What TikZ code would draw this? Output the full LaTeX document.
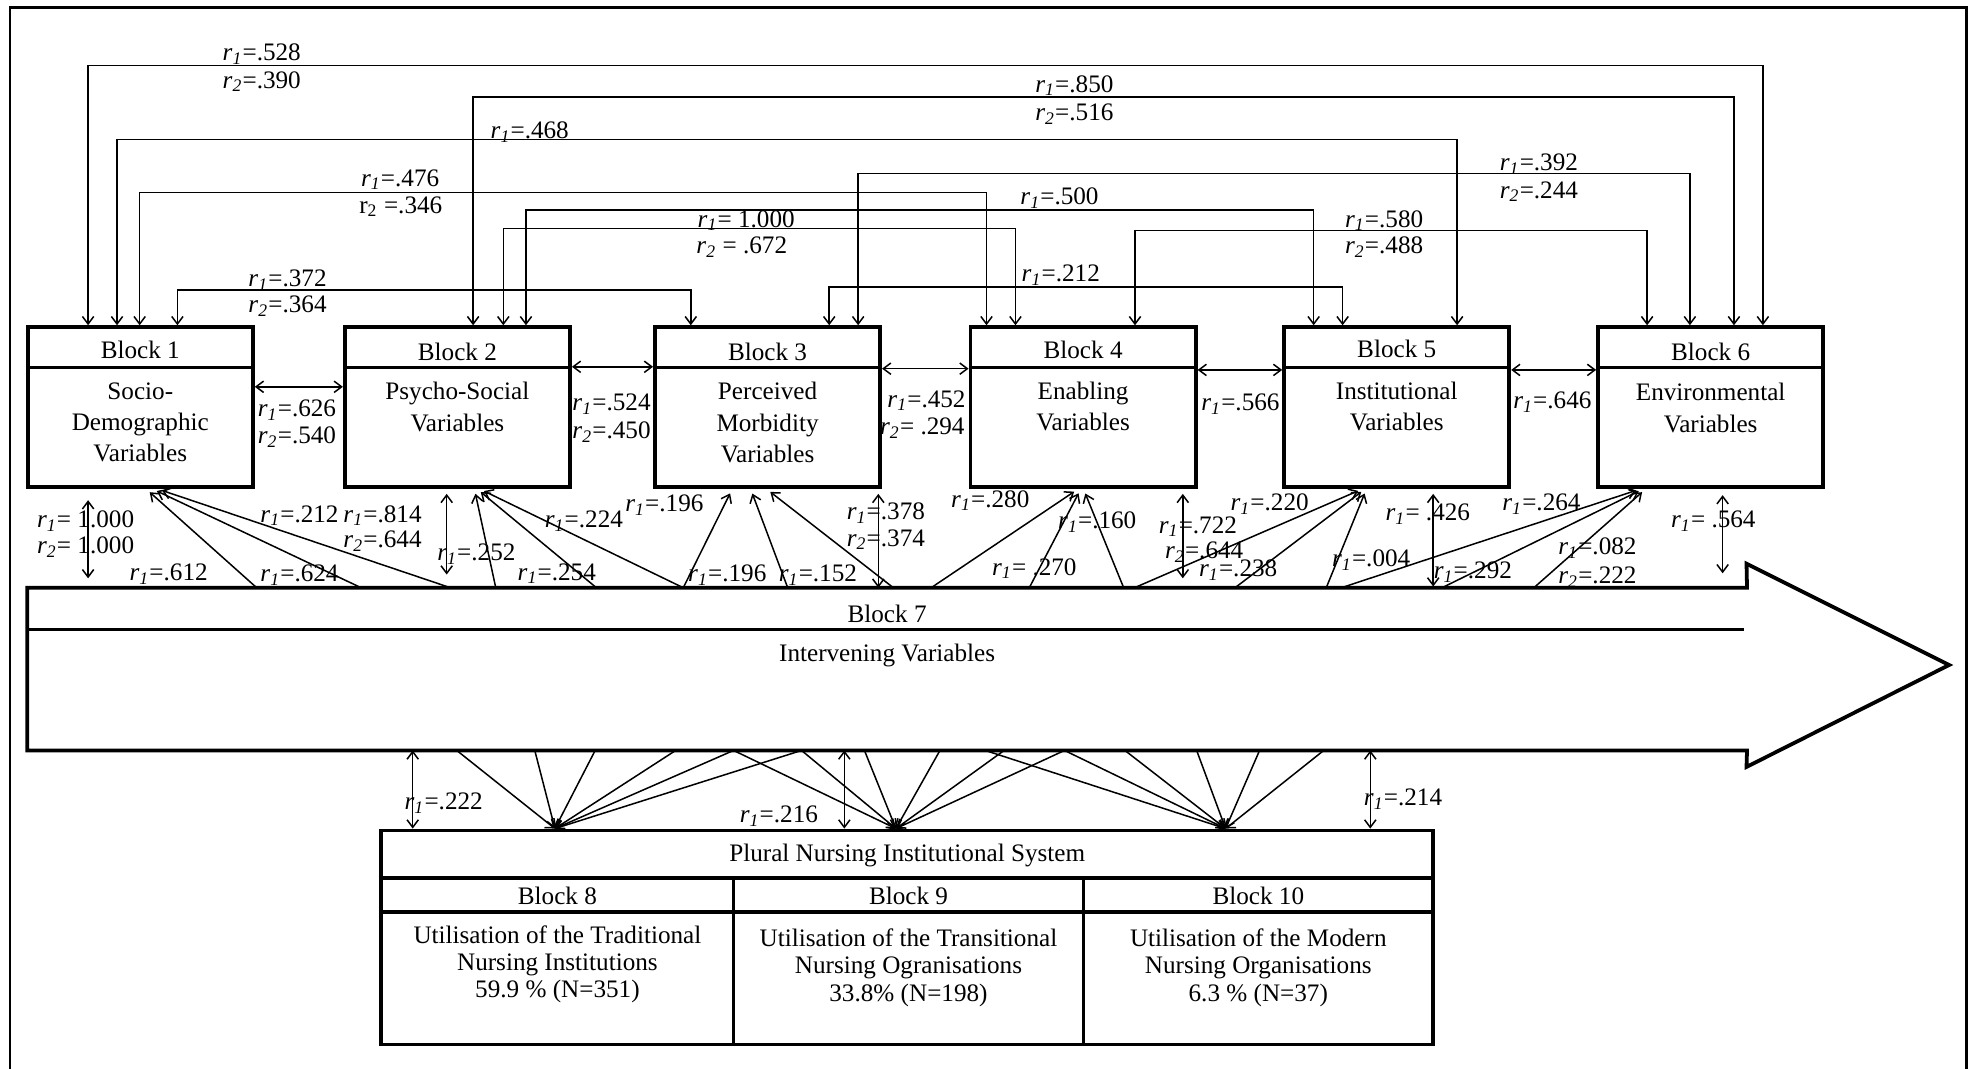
\documentclass[tikz,border=0pt]{standalone}
\usepackage{fontspec}
\setmainfont{Liberation Serif}
\usetikzlibrary{arrows.meta,calc}
\newcommand{\rlabA}[1]{\textit{r}\textsubscript{\textit{1}}=#1}
\newcommand{\rlabB}[1]{\textit{r}\textsubscript{\textit{2}}=#1}
\begin{document}
\begin{tikzpicture}[x=0.5pt,y=-0.5pt,
  blk/.style={draw, line width=1.5pt, minimum width=89.5pt, minimum height=63.5pt, inner sep=0pt},
  txt/.style={inner sep=0pt, font=\fontsize{10}{12.45}\selectfont, align=center},
  lbl/.style={inner sep=0pt, font=\fontsize{10}{12}\selectfont, anchor=base},
  conn/.style={line width=0.6pt, {Straight Barb[length=3pt,width=4.5pt]}-{Straight Barb[length=3pt,width=4.5pt]}},
  fan/.style={line width=0.6pt, -{Straight Barb[length=3pt,width=4.5pt]}},
  divl/.style={line width=1.5pt}]
\useasboundingbox (0,0) rectangle (1568,849.5);
\draw[line width=1pt] (8,849.5) -- (8,6) -- (1563,6) -- (1563,849.5);

% ---- blocks 1-6
\node[blk] (b1) at (111.5,323.5) {};
\node[blk] (b2) at (363.5,323.5) {};
\node[blk] (b3) at (610,323.5) {};
\node[blk] (b4) at (860.75,323.5) {};
\node[blk] (b5) at (1110,323.5) {};
\node[blk] (b6) at (1359.5,323.5) {};
\foreach \b in {b1,b2,b3,b4,b5,b6}
  \draw[divl] (\b.west |- 0,292) -- (\b.east |- 0,292);

\node[txt, anchor=base] (h1) at (111.5,285) {Block 1};
\node[txt, anchor=base] (h2) at (363.5,286.5) {Block 2};
\node[txt, anchor=base] (h3) at (610,286.5) {Block 3};
\node[txt, anchor=base] (h4) at (860.75,285) {Block 4};
\node[txt, anchor=base] (h5) at (1110,284) {Block 5};
\node[txt, anchor=base] (h6) at (1359.5,286.5) {Block 6};

\node[txt, anchor=north] (t1) at (111.5,303.5) {Socio-\\Demographic\\Variables};
\node[txt, anchor=north] (t2) at (363.5,303.5) {Psycho-Social\\Variables};
\node[txt, anchor=north] (t3) at (610,303.5) {Perceived\\Morbidity\\Variables};
\node[txt, anchor=north] (t4) at (860.75,303) {Enabling\\Variables};
\node[txt, anchor=north] (t5) at (1110,303) {Institutional\\Variables};
\node[txt, anchor=north] (t6) at (1359.5,304.3) {Environmental\\Variables};

% ---- block 7 (arrow)
\node[minimum width=683pt, minimum height=64.25pt, inner sep=0pt] (b7) at (705,531.75) {};
\draw[line width=1.5pt, line join=miter] (b7.north west) -- (b7.north east) -- (1388,448) -- (1549,528.5) -- (1388,609.5) -- (b7.south east) -- (b7.south west) -- cycle;
\draw[divl] (b7.west |- 0,500.3) -- (1386,500.3);
\node[txt, anchor=base] (h7) at (705,494.5) {Block 7};
\node[txt, anchor=base] (t7) at (705,526) {Intervening Variables};

% ---- plural nursing institutional system
\node[blk, minimum width=418pt, minimum height=85pt] (pns) at (721,745) {};
\draw[divl] (pns.west |- 0,698) -- (pns.east |- 0,698);
\draw[divl] (pns.west |- 0,724.7) -- (pns.east |- 0,724.7);
\draw[divl] (583,698) -- (583,0 |- pns.south);
\draw[divl] (861,698) -- (861,0 |- pns.south);
\node[txt, anchor=base] (hp) at (721,685) {Plural Nursing Institutional System};
\node[txt, anchor=base] (h8) at (443,719) {Block 8};
\node[txt, anchor=base] (h9) at (722,719) {Block 9};
\node[txt, anchor=base] (h10) at (1000,719) {Block 10};
\node[txt, anchor=north, font=\fontsize{10}{10.9}\selectfont] (t8) at (443,735) {Utilisation of the Traditional\\Nursing Institutions\\59.9 \% (N=351)};
\node[txt, anchor=north, font=\fontsize{10}{10.9}\selectfont] (t9) at (722,737.5) {Utilisation of the Transitional\\Nursing Ogranisations\\33.8\% (N=198)};
\node[txt, anchor=north, font=\fontsize{10}{10.9}\selectfont] (t10) at (1000,737.5) {Utilisation of the Modern\\Nursing Organisations\\6.3 \% (N=37)};

% ---- top connectors
\draw[conn] (70,0 |- b1.north) -- (70,52) -- (1401,52) -- (1401,0 |- b6.north);
\draw[conn] (376,0 |- b2.north) -- (376,77) -- (1378,77) -- (1378,0 |- b6.north);
\draw[conn] (93,0 |- b1.north) -- (93,111) -- (1158,111) -- (1158,0 |- b5.north);
\draw[conn] (682,0 |- b3.north) -- (682,138) -- (1343,138) -- (1343,0 |- b6.north);
\draw[conn] (111,0 |- b1.north) -- (111,153) -- (784,153) -- (784,0 |- b4.north);
\draw[conn] (418,0 |- b2.north) -- (418,167) -- (1044,167) -- (1044,0 |- b5.north);
\draw[conn] (400,0 |- b2.north) -- (400,181.5) -- (807,181.5) -- (807,0 |- b4.north);
\draw[conn] (902,0 |- b4.north) -- (902,183.3) -- (1309,183.3) -- (1309,0 |- b6.north);
\draw[conn] (659,0 |- b3.north) -- (659,228) -- (1067,228) -- (1067,0 |- b5.north);
\draw[conn] (141,0 |- b1.north) -- (141,230.5) -- (549,230.5) -- (549,0 |- b3.north);

\node[lbl] (la1) at (208,48) {\rlabA{.528}};
\node[lbl] (lb1) at (208,70) {\rlabB{.390}};
\node[lbl] (la2) at (853.8,73.2) {\rlabA{.850}};
\node[lbl] (lb2) at (853.8,95.8) {\rlabB{.516}};
\node[lbl] (la3) at (421,110.3) {\rlabA{.468}};
\node[lbl] (la4) at (1223,135.5) {\rlabA{.392}};
\node[lbl] (lb4) at (1223,157.5) {\rlabB{.244}};
\node[lbl] (la5) at (318,148) {\rlabA{.476}};
\node[lbl] (lb5) at (318.5,169.4) {r\textsubscript{2} =.346};
\node[lbl] (la6) at (842,162.8) {\rlabA{.500}};
\node[lbl] (la7) at (593,180.5) {\rlabA{ 1.000}};
\node[lbl] (lb7) at (589.5,201.5) {\textit{r}\textsubscript{\textit{2}} = .672};
\node[lbl] (la8) at (1100,180.5) {\rlabA{.580}};
\node[lbl] (lb8) at (1100,201.8) {\rlabB{.488}};
\node[lbl] (la9) at (843,224) {\rlabA{.212}};
\node[lbl] (la10) at (228.5,228) {\rlabA{.372}};
\node[lbl] (lb10) at (228.5,248.6) {\rlabB{.364}};

% ---- horizontal connectors
\draw[conn] (b1.east |- 0,307.4) -- (b2.west |- 0,307.4);
\draw[conn] (b2.east |- 0,291.5) -- (b3.west |- 0,291.5);
\draw[conn] (b3.east |- 0,293) -- (b4.west |- 0,293);
\draw[conn] (b4.east |- 0,294) -- (b5.west |- 0,294);
\draw[conn] (b5.east |- 0,294) -- (b6.west |- 0,294);
\node[lbl] (lh1a) at (236,330.8) {\rlabA{.626}};
\node[lbl] (lh1b) at (236,352.8) {\rlabB{.540}};
\node[lbl] (lh2a) at (486,326.3) {\rlabA{.524}};
\node[lbl] (lh2b) at (486,348.3) {\rlabB{.450}};
\node[lbl] (lh3a) at (736.3,323.6) {\rlabA{.452}};
\node[lbl] (lh3b) at (733,345.6) {\rlabB{ .294}};
\node[lbl] (lh4a) at (985.8,326.3) {\rlabA{.566}};
\node[lbl] (lh5a) at (1233.7,325) {\rlabA{.646}};

% ---- block 7 to blocks 1-6
\foreach \s/\t/\b in {204/116/b1, 287/121/b1, 358/125/b1, 394/377/b2, 474/379/b2, 543/381/b2, 543/582/b3, 626/596.5/b3, 710/609/b3, 740/857/b4, 818/859/b4, 893/861/b4, 901.6/1083/b5, 981.5/1085/b5, 1054/1086/b5, 1066/1304/b6, 1146/1306/b6, 1219/1308/b6}
  \draw[fan, shorten >=2pt] (\s,0 |- b7.north) -- (\t,0 |- \b.south);

\draw[conn, shorten <=4.5pt, shorten >=3.75pt] (70,0 |- b1.south) -- (70,0 |- b7.north);
\draw[conn, shorten <=2pt, shorten >=5.25pt] (355,0 |- b2.south) -- (355,0 |- b7.north);
\draw[conn, shorten <=2pt] (698,0 |- b3.south) -- (698,0 |- b7.north);
\draw[conn, shorten <=2pt, shorten >=3.75pt] (940,0 |- b4.south) -- (940,0 |- b7.north);
\draw[conn, shorten <=2pt, shorten >=0.5pt] (1139,0 |- b5.south) -- (1139,0 |- b7.north);
\draw[conn, shorten <=2.5pt, shorten >=5.75pt] (1369,0 |- b6.south) -- (1369,0 |- b7.north);

\node[lbl] (m1) at (68,419.5) {\rlabA{ 1.000}};
\node[lbl] (m2) at (68,440) {\rlabB{ 1.000}};
\node[lbl] (m3) at (134,461.4) {\rlabA{.612}};
\node[lbl] (m4) at (238,462) {\rlabA{.624}};
\node[lbl] (m5) at (238,415) {\rlabA{.212}};
\node[lbl] (m6) at (304,415) {\rlabA{.814}};
\node[lbl] (m7) at (304,435) {\rlabB{.644}};
\node[lbl] (m8) at (378.6,445.5) {\rlabA{.252}};
\node[lbl] (m9) at (442.5,461) {\rlabA{.254}};
\node[lbl] (m10) at (464,419.5) {\rlabA{.224}};
\node[lbl] (m11) at (528,406.6) {\rlabA{.196}};
\node[lbl] (m12) at (578,462) {\rlabA{.196}};
\node[lbl] (m13) at (650,462) {\rlabA{.152}};
\node[lbl] (m14) at (704,413) {\rlabA{.378}};
\node[lbl] (m15) at (704,434) {\rlabB{.374}};
\node[lbl] (m16) at (787,403) {\rlabA{.280}};
\node[lbl] (m17) at (872,420) {\rlabA{.160}};
\node[lbl] (m18) at (822,457) {\rlabA{ .270}};
\node[lbl] (m19) at (952,423.6) {\rlabA{.722}};
\node[lbl] (m20) at (957,444) {\rlabB{.644}};
\node[lbl] (m21) at (1009,405.7) {\rlabA{.220}};
\node[lbl] (m22) at (984,458) {\rlabA{.238}};
\node[lbl] (m23) at (1134.7,414) {\rlabA{ .426}};
\node[lbl] (m24) at (1089.7,450) {\rlabA{.004}};
\node[lbl] (m25) at (1170.5,460) {\rlabA{.292}};
\node[lbl] (m26) at (1225,406) {\rlabA{.264}};
\node[lbl] (m27) at (1269.5,441) {\rlabA{.082}};
\node[lbl] (m28) at (1269.5,464) {\rlabB{.222}};
\node[lbl] (m29) at (1361.6,419.5) {\rlabA{ .564}};

% ---- block 7 to blocks 8-10
\foreach \s/\t in {363/441, 425/441, 473/441, 537/441, 583/441, 637/441, 583/712, 637/712, 687/712, 747/712, 798/712, 846/712, 783/974, 846/974, 894/974, 951/974, 1001/974, 1052/974}
  \draw[fan] (\s,0 |- b7.south) -- (\t,0 |- pns.north);
\draw[conn] (328,0 |- b7.south) -- (328,0 |- pns.north);
\draw[conn] (671,0 |- b7.south) -- (671,0 |- pns.north);
\draw[conn] (1089,0 |- b7.south) -- (1089,0 |- pns.north);
\node[lbl] (n1) at (352.6,643.5) {\rlabA{.222}};
\node[lbl] (n2) at (619,653.5) {\rlabA{.216}};
\node[lbl] (n3) at (1115,640.3) {\rlabA{.214}};
\end{tikzpicture}
\end{document}
